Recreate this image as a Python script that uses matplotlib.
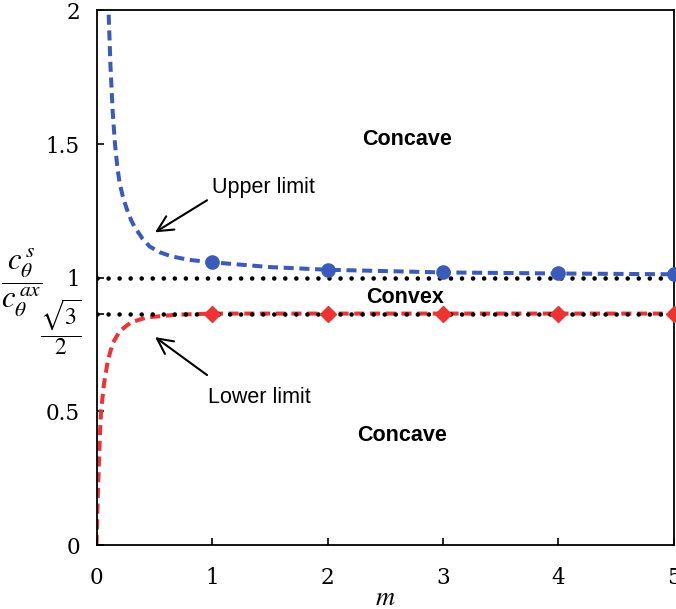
import numpy as np
import matplotlib
matplotlib.use("Agg")
import matplotlib.pyplot as plt
from matplotlib.transforms import blended_transform_factory

plt.rcParams["mathtext.fontset"] = "stix"
plt.rcParams["font.family"] = ["DejaVu Serif"]

# Upper bound curve of c_s / c_ax versus m
upper_m = [0.09, 0.104, 0.12, 0.14, 0.16, 0.18, 0.20, 0.23, 0.26, 0.30, 0.33,
           0.40, 0.46, 0.55, 0.65, 0.80, 1.0, 1.5, 2.0, 3.0, 4.0, 5.0]
upper_y = [2.2, 2.0, 1.80, 1.62, 1.50, 1.415, 1.355, 1.30, 1.26, 1.215, 1.19,
           1.145, 1.117, 1.095, 1.08, 1.067, 1.058, 1.04, 1.03, 1.02, 1.016,
           1.013]

# Lower bound curve
lower_m = [0.0, 0.005, 0.01, 0.02, 0.03, 0.04, 0.065, 0.098, 0.14, 0.2, 0.3,
           0.44, 0.7, 1.0, 2.0, 3.0, 4.0, 5.0]
lower_y = [0.0, 0.08, 0.17, 0.30, 0.42, 0.505, 0.605, 0.69, 0.755, 0.80, 0.834,
           0.852, 0.862, 0.866, 0.866, 0.866, 0.866, 0.866]

# Discrete points at integer m
point_m = [1, 2, 3, 4, 5]
upper_pts = [1.058, 1.03, 1.02, 1.016, 1.013]
lower_pts = [0.866, 0.866, 0.866, 0.866, 0.866]

# Reference levels
ref_levels = [1.0, np.sqrt(3) / 2]

x_ticks = [0, 1, 2, 3, 4, 5]
y_ticks = [0, 0.5, 1, 1.5, 2]
y_ticklabels = ["0", "0.5", "1", "1.5", "2"]

blue = "#3A5BB9"
red = "#EE3433"

fig = plt.figure(figsize=(6.76, 6.09), dpi=100)
ax = fig.add_axes([0.1428, 0.105, 0.9970 - 0.1428, 0.9828 - 0.105])

dash = (0, (2.5, 1.4))
ax.plot(upper_m, upper_y, color=blue, lw=2.9, linestyle=dash, zorder=2)
ax.plot(lower_m, lower_y, color=red, lw=2.9, linestyle=dash, zorder=2)

for lvl in ref_levels:
    ax.plot([0, 5], [lvl, lvl], color="black", lw=3.3,
            linestyle=(0, (0.01, 2.4)), dash_capstyle="round", zorder=3)

ax.plot(point_m, upper_pts, linestyle="none", marker="o", ms=9.5,
        color=blue, zorder=4, clip_on=False)
ax.plot(point_m, lower_pts, linestyle="none", marker="D", ms=8.5,
        color=red, zorder=4, clip_on=False)

ax.set_xlim(0, 5)
ax.set_ylim(0, 2)
ax.set_xticks(x_ticks)
ax.set_xticklabels([str(t) for t in x_ticks])
ax.set_yticks(y_ticks + [np.sqrt(3) / 2])
ax.set_yticklabels(y_ticklabels + [""])
ax.tick_params(direction="in", length=5, width=1.2, labelsize=15.5)
ax.tick_params(axis="x", pad=16)
ax.tick_params(axis="y", pad=12)
for s in ax.spines.values():
    s.set_linewidth(1.3)

ax.set_xlabel("$m$", fontsize=19, labelpad=-3)

# sqrt(3)/2 label next to the lower reference level
ax.annotate(r"$\dfrac{\sqrt{3}}{2}$", xy=(0, np.sqrt(3) / 2),
            xycoords=blended_transform_factory(ax.transAxes, ax.transData),
            xytext=(-11, -10), textcoords="offset points",
            ha="right", va="center", fontsize=17)

# ratio label on the y-axis
fig.text(0.033, 0.535, r"$\dfrac{c_\theta^{\,s}}{c_\theta^{\,ax}}$",
         ha="center", va="center", fontsize=22)

sans = ["Liberation Sans", "DejaVu Sans"]
ax.text(2.69, 1.518, "Concave", ha="center", va="center", fontsize=15.5,
        fontweight="bold", family=sans)
ax.text(2.673, 0.925, "Convex", ha="center", va="center", fontsize=15.5,
        fontweight="bold", family=sans)
ax.text(2.647, 0.411, "Concave", ha="center", va="center", fontsize=15.5,
        fontweight="bold", family=sans)

ax.text(1.0, 1.338, "Upper limit", ha="left", va="center", fontsize=15.5,
        family=sans)
ax.text(0.966, 0.553, "Lower limit", ha="left", va="center", fontsize=15.5,
        family=sans)

arrow = dict(arrowstyle="->", color="black", lw=1.5, mutation_scale=28,
             shrinkA=0, shrinkB=0)
ax.annotate("", xy=(0.507, 1.170), xytext=(0.957, 1.290), arrowprops=arrow)
ax.annotate("", xy=(0.507, 0.778), xytext=(0.957, 0.636), arrowprops=arrow)

fig.savefig("out.png", dpi=100)
